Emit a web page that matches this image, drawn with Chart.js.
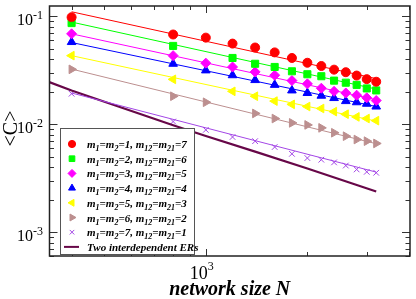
<!DOCTYPE html>
<html><head><meta charset="utf-8">
<script src="https://cdn.jsdelivr.net/npm/chart.js@4/dist/chart.umd.min.js"></script>
<style>html,body{margin:0;padding:0;background:#fff;overflow:hidden}#wrap{width:416px;height:299px;position:relative}</style>
</head><body><div id="wrap"><canvas id="c" width="416" height="299"></canvas></div>
<script>
// ---- data ----
const sizeN = [400,800,1000,1200,1400,1600,1800,2000,2200,2400,2600,2800,3000,3200];
const C_m1 = [0.0984,0.0680,0.0636,0.0560,0.0515,0.0464,0.0412,0.0372,0.0347,0.0321,0.0304,0.0283,0.0262,0.0248];
const C_m2 = [0.0868,0.0533,null,0.0412,0.0364,0.0340,0.0310,0.0291,0.0279,0.0254,0.0243,0.0232,0.0215,0.0206];
const C_m3 = [0.0690,0.0433,0.0369,0.0340,0.0306,0.0285,0.0254,0.0237,0.0216,0.0202,0.0195,0.0186,0.0176,0.0166];
const C_m4 = [0.0579,0.0364,0.0316,0.0285,0.0257,0.0232,0.0206,0.0195,0.0184,0.0175,0.0164,0.0160,0.0155,0.0146];
const C_m5 = [0.0433,0.0261,null,0.0202,0.0182,0.0164,0.0153,0.0146,0.0140,0.0131,0.0124,0.0117,0.0113,0.0108];
const C_m6 = [0.0323,0.0182,0.0160,null,0.0126,0.0113,0.0103,0.00986,0.00926,0.00834,0.00775,0.00722,0.00697,0.00664];
const C_m7 = [0.0192,0.0106,0.00887,0.00762,0.00697,0.00615,0.00532,0.00486,0.00469,0.00443,0.00414,0.00381,0.00362,0.00355];
const fitN = [400, 3200];
const fit_m1 = [0.1105, 0.0265];
const fit_m2 = [0.0887, 0.0212];
const fit_m3 = [0.0690, 0.0169];
const fit_m4 = [0.0573, 0.0146];
const fit_m5 = [0.0433, 0.0107];
const fit_m6 = [0.0325, 0.0066];
const fit_m7 = [0.0195, 0.0036];
const erN = [300,400,800,1000,1400,2000,3200];
const erC = [0.0288,0.0206,0.0098,0.00778,0.00558,0.00389,0.00238];
const seriesLabels = [
  'm_1=m_2=1, m_12=m_21=7','m_1=m_2=2, m_12=m_21=6','m_1=m_2=3, m_12=m_21=5',
  'm_1=m_2=4, m_12=m_21=4','m_1=m_2=5, m_12=m_21=3','m_1=m_2=6, m_12=m_21=2',
  'm_1=m_2=7, m_12=m_21=1','Two interdependent ERs'];
const xTitle = 'network size N';
const yTitle = '<C>';
const xTickExps = [3];
const yTickExps = [-3,-2,-1];
const xRange = [344, 4030];
const yRange = [6.13e-4, 0.125];

// ---- styles ----
const colors = ['#ff0000','#00ff00','#ff00ff','#0000ff','#ffff00','#bc8f8f','#a346e6'];
const styles = [
  {pointStyle:'circle', radius:4.5, rotation:0},
  {pointStyle:'rect', radius:5, rotation:0},
  {pointStyle:'rectRot', radius:5, rotation:0},
  {pointStyle:'triangle', radius:5, rotation:0},
  {pointStyle:'triangle', radius:5, rotation:-90},
  {pointStyle:'triangle', radius:5, rotation:90},
  {pointStyle:'crossRot', radius:4, rotation:0}
];
const ERcolor = '#670748';
const seriesVals = [C_m1,C_m2,C_m3,C_m4,C_m5,C_m6,C_m7];
const fitVals = [fit_m1,fit_m2,fit_m3,fit_m4,fit_m5,fit_m6,fit_m7];

const pts = (xs, ys) => xs.map((x,i)=>({x:x, y:ys[i]})).filter(p=>p.y!==null);

const datasets = [];
fitVals.forEach((f,i)=>{
  datasets.push({label:'fit '+i, data:pts(fitN,f), borderColor:colors[i], borderWidth:1, pointRadius:0, showLine:true, fill:false});
});
datasets.push({label:seriesLabels[7], data:pts(erN,erC), borderColor:ERcolor, borderWidth:2.2, pointRadius:0, showLine:true, fill:false});
seriesVals.forEach((v,i)=>{
  datasets.push({label:seriesLabels[i], data:pts(sizeN,v), showLine:false, pointStyle:styles[i].pointStyle,
    pointRadius:styles[i].radius, pointRotation:styles[i].rotation, backgroundColor:colors[i], borderColor:colors[i], borderWidth:1});
});

function richText(ctx, x, y, str, size){
  const parts = [];
  const re = /_(\d+)/g; let last=0, m;
  while((m=re.exec(str))){ if(m.index>last) parts.push({t:str.slice(last,m.index),sub:false}); parts.push({t:m[1],sub:true}); last=re.lastIndex; }
  if(last<str.length) parts.push({t:str.slice(last),sub:false});
  const fBase = `italic bold ${size}px "Liberation Serif"`;
  const fSub = `italic bold ${Math.round(size*0.7)}px "Liberation Serif"`;
  let cx = x;
  ctx.textAlign='left'; ctx.textBaseline='alphabetic';
  parts.forEach(p=>{
    ctx.font = p.sub?fSub:fBase;
    ctx.fillText(p.t, cx, y + (p.sub? size*0.28:0));
    cx += ctx.measureText(p.t).width;
  });
}

const decor = {
  id:'decor',
  afterDraw(chart){
    const {ctx, chartArea:a, scales:{x,y}} = chart;
    ctx.save();
    ctx.strokeStyle='#333'; ctx.lineWidth=1;
    ctx.beginPath();
    for(let e=2;e<=4;e++) for(let m=1;m<=9;m++){
      const v=m*Math.pow(10,e); if(v<x.min||v>x.max) continue;
      const px=Math.round(x.getPixelForValue(v))+0.5, L=(m===1)?7:4;
      ctx.moveTo(px,a.bottom); ctx.lineTo(px,a.bottom-L);
      ctx.moveTo(px,a.top); ctx.lineTo(px,a.top+L);
    }
    for(let e=-4;e<=0;e++) for(let m=1;m<=9;m++){
      const v=m*Math.pow(10,e); if(v<y.min||v>y.max) continue;
      const py=Math.round(y.getPixelForValue(v))+0.5, L=(m===1)?8:4.5;
      ctx.moveTo(a.left,py); ctx.lineTo(a.left+L,py);
      ctx.moveTo(a.right,py); ctx.lineTo(a.right-L,py);
    }
    ctx.stroke();
    ctx.strokeStyle='#222'; ctx.lineWidth=1.5;
    ctx.strokeRect(a.left,a.top,a.right-a.left,a.bottom-a.top);
    ctx.fillStyle='#000';
    yTickExps.forEach(e=>{
      const py=y.getPixelForValue(Math.pow(10,e));
      ctx.font='16px "Liberation Serif"'; ctx.textAlign='right'; ctx.textBaseline='alphabetic';
      ctx.fillText('10',33,py+9);
      ctx.font='12px "Liberation Serif"'; ctx.textAlign='left';
      ctx.fillText(String(e),33,py+3);
    });
    xTickExps.forEach(e=>{
      const px=x.getPixelForValue(Math.pow(10,e));
      ctx.font='18px "Liberation Serif"'; ctx.textAlign='right'; ctx.textBaseline='alphabetic';
      ctx.fillText('10',px+2,279);
      ctx.font='12px "Liberation Serif"'; ctx.textAlign='left';
      ctx.fillText(String(e),px+2,270);
    });
    ctx.font='italic bold 20px "Liberation Serif"'; ctx.textAlign='center';
    ctx.fillText(xTitle,(a.left+a.right)/2,295);
    ctx.save(); ctx.translate(12,128.5); ctx.rotate(-Math.PI/2);
    ctx.font='20px "Liberation Serif"'; ctx.textBaseline='middle';
    ctx.fillText(yTitle,0,0); ctx.restore();
    ctx.fillStyle='#fff'; ctx.fillRect(60.5,128.5,134,126);
    ctx.strokeStyle='#555'; ctx.lineWidth=1; ctx.strokeRect(60.5,128.5,134,126);
    for(let i=0;i<8;i++){
      const ry=144+i*14.7;
      if(i<7){
        ctx.fillStyle=colors[i]; ctx.strokeStyle=colors[i]; ctx.lineWidth=1;
        Chart.helpers.drawPoint(ctx,{pointStyle:styles[i].pointStyle,rotation:styles[i].rotation,radius:styles[i].radius*0.8,borderWidth:1},72,ry);
      } else {
        ctx.strokeStyle=ERcolor; ctx.lineWidth=2; ctx.beginPath(); ctx.moveTo(64,ry); ctx.lineTo(79,ry); ctx.stroke();
      }
      ctx.fillStyle='#000';
      richText(ctx,87,ry+4,seriesLabels[i],11);
    }
    ctx.restore();
  }
};

new Chart(document.getElementById('c'),{
  type:'line',
  data:{datasets},
  options:{
    responsive:false, animation:false, devicePixelRatio:1,
    layout:{padding:{top:1,right:1,left:0,bottom:0}},
    plugins:{legend:{display:false},tooltip:{enabled:false}},
    scales:{
      x:{type:'logarithmic',min:xRange[0],max:xRange[1],grid:{display:false},border:{display:false},ticks:{display:false},
         afterFit:s=>{s.height=43;}},
      y:{type:'logarithmic',min:yRange[0],max:yRange[1],grid:{display:false},border:{display:false},ticks:{display:false},
         afterFit:s=>{s.width=49.5;}}
    }
  },
  plugins:[decor]
});
</script></body></html>
